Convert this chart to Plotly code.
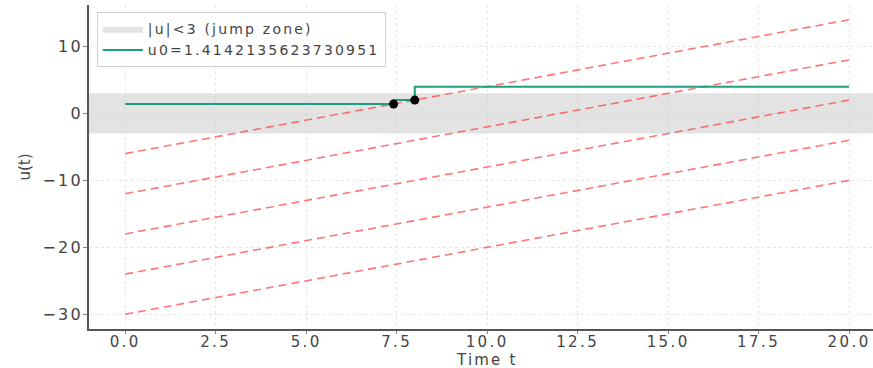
import plotly.graph_objects as go

# Time axis span and the family of dashed reference lines u = t + c
t_span = [0.0, 20.0]
line_offsets = [-6, -12, -18, -24, -30]
line_slope = 1.0

# Jump zone bounds
zone_low, zone_high = -3, 3

# Piecewise-constant trajectory: start value, jump times and values after each jump
u0 = 1.4142135623730951
jump_times = [7.414213562373095, 8.0]
jump_values = [2.0, 4.0]

# Tick positions and labels
x_ticks = [0, 2.5, 5, 7.5, 10, 12.5, 15, 17.5, 20]
x_tick_labels = ["0.0", "2.5", "5.0", "7.5", "10.0", "12.5", "15.0", "17.5", "20.0"]
y_ticks = [10, 0, -10, -20, -30]
y_tick_labels = ["10", "0", "\u221210", "\u221220", "\u221230"]

x_range = [-1.0, 20.66]
y_range = [-32.2, 16.2]


def wide(text, spacing):
    """Wrap text in a span with extra letter spacing (wide-set labels)."""
    return f'<span style="letter-spacing:{spacing}px">{text}</span>'


fig = go.Figure()

# Shaded jump zone across the full time range
fig.add_trace(go.Scatter(
    x=[x_range[0], x_range[1], x_range[1], x_range[0], x_range[0]],
    y=[zone_low, zone_low, zone_high, zone_high, zone_low],
    fill="toself", fillcolor="rgba(200,200,200,0.5)",
    line=dict(width=0), mode="lines", hoverinfo="skip",
    name=wide("|u|<3 (jump zone)", 2.2), showlegend=True,
))

# Dashed reference lines
for c in line_offsets:
    fig.add_trace(go.Scatter(
        x=t_span, y=[c + line_slope * t_span[0], c + line_slope * t_span[1]],
        mode="lines", line=dict(color="rgba(255,60,60,0.7)", width=1.6, dash="8px,5px"),
        showlegend=False, hoverinfo="skip",
    ))

# Step trajectory built from the jump data
step_x = [t_span[0]]
step_y = [u0]
cur = u0
for tj, vj in zip(jump_times, jump_values):
    step_x += [tj, tj]
    step_y += [cur, vj]
    cur = vj
step_x.append(t_span[1])
step_y.append(cur)

fig.add_trace(go.Scatter(
    x=step_x, y=step_y, mode="lines",
    line=dict(color="#1f9e7f", width=2),
    name=wide(f"u0={u0!r}", 2.2),
))

# Jump points (value just before each jump)
pre_vals = [u0] + jump_values[:-1]
fig.add_trace(go.Scatter(
    x=jump_times, y=pre_vals, mode="markers",
    marker=dict(color="black", size=9),
    showlegend=False, hoverinfo="skip",
))

font = "DejaVu Sans"
fig.update_layout(
    width=873, height=368,
    margin=dict(l=89, r=0, t=5, b=39),
    paper_bgcolor="white", plot_bgcolor="white",
    font=dict(family=font, size=16, color="#444"),
    legend=dict(
        x=0.01, y=0.978, xanchor="left", yanchor="top",
        bgcolor="rgba(255,255,255,0.9)", bordercolor="#d0d0d0", borderwidth=1,
        font=dict(size=14, color="#444"), tracegroupgap=0, itemwidth=40,
    ),
    xaxis=dict(
        range=x_range, tickvals=x_ticks,
        ticktext=[wide(s, 2.4) for s in x_tick_labels],
        tickfont=dict(size=15),
        showgrid=True, gridcolor="#e6e6e6", griddash="dot", gridwidth=1,
        showline=True, linecolor="#555", linewidth=2,
        ticks="outside", ticklen=3, tickcolor="#888",
        ticklabelstandoff=-5,
        zeroline=False,
    ),
    yaxis=dict(
        range=y_range, tickvals=y_ticks,
        ticktext=[wide(s, 2.2) for s in y_tick_labels],
        showgrid=True, gridcolor="#e6e6e6", griddash="dot", gridwidth=1,
        showline=True, linecolor="#555", linewidth=2,
        ticks="outside", ticklen=4, tickcolor="#888",
        ticklabelstandoff=-3,
        title=dict(text="u(t)", standoff=8, font=dict(size=15)),
        zeroline=False,
    ),
    annotations=[dict(
        text=wide("Time t", 2.2), xref="paper", yref="paper",
        x=0.508, y=-0.095, xanchor="center", yanchor="middle",
        showarrow=False, font=dict(size=15, color="#444"),
    )],
)

fig.write_html("out.html")
